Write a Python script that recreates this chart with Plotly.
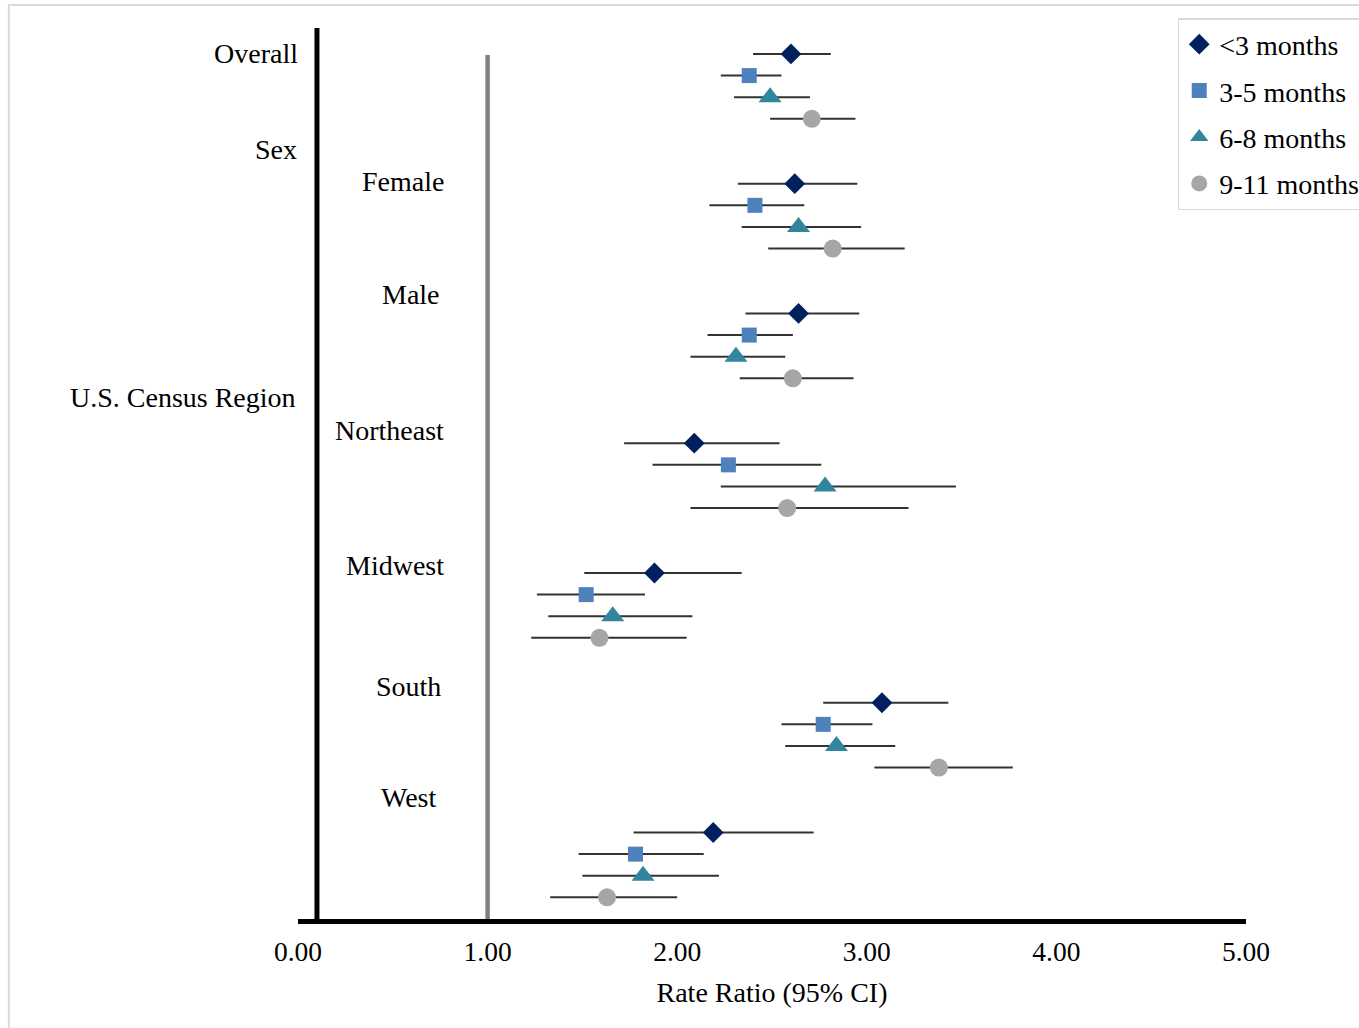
import plotly.graph_objects as go

# Subgroups, top to bottom
groups = ["Overall", "Female", "Male", "Northeast", "Midwest", "South", "West"]
age_groups = ["<3 months", "3-5 months", "6-8 months", "9-11 months"]

# Rate ratio point estimates, one list per age group (same order as groups)
rr_lt3 = [2.60, 2.62, 2.64, 2.09, 1.88, 3.08, 2.19]
rr_3_5 = [2.38, 2.41, 2.38, 2.27, 1.52, 2.77, 1.78]
rr_6_8 = [2.49, 2.64, 2.31, 2.78, 1.66, 2.84, 1.82]
rr_9_11 = [2.71, 2.82, 2.61, 2.58, 1.59, 3.38, 1.63]

# Lower 95% confidence limits
lo_lt3 = [2.40, 2.32, 2.36, 1.72, 1.51, 2.77, 1.77]
lo_3_5 = [2.23, 2.17, 2.16, 1.87, 1.26, 2.55, 1.48]
lo_6_8 = [2.30, 2.34, 2.07, 2.23, 1.32, 2.57, 1.50]
lo_9_11 = [2.49, 2.48, 2.33, 2.07, 1.23, 3.04, 1.33]

# Upper 95% confidence limits
hi_lt3 = [2.81, 2.95, 2.96, 2.54, 2.34, 3.43, 2.72]
hi_3_5 = [2.55, 2.67, 2.61, 2.76, 1.83, 3.03, 2.14]
hi_6_8 = [2.70, 2.97, 2.57, 3.47, 2.08, 3.15, 2.22]
hi_9_11 = [2.94, 3.20, 2.93, 3.22, 2.05, 3.77, 2.00]

x_ticks = [0, 1, 2, 3, 4, 5]

series = [
    (age_groups[0], rr_lt3, lo_lt3, hi_lt3, "diamond", "#002060", 16),
    (age_groups[1], rr_3_5, lo_3_5, hi_3_5, "square", "#4F81BD", 15),
    (age_groups[2], rr_6_8, lo_6_8, hi_6_8, "triangle-up", "#31859C", 20),
    (age_groups[3], rr_9_11, lo_9_11, hi_9_11, "circle", "#A6A6A6", 18),
]

ROWS_PER_GROUP = 6  # four estimates + two blank rows
Y_BOTTOM = ROWS_PER_GROUP * len(groups) - 2
Y_TOP = -1.2
FONT = "Liberation Serif"

fig = go.Figure()
for k, (name, rr, lo, hi, sym, col, size) in enumerate(series):
    ys = [g * ROWS_PER_GROUP + k for g in range(len(groups))]
    fig.add_trace(go.Scatter(
        x=rr, y=ys, mode="markers", name=name, legendgroup=name,
        marker=dict(symbol=sym, color=col, size=size, line=dict(width=0)),
        error_x=dict(type="data", symmetric=False,
                     array=[h - r for h, r in zip(hi, rr)],
                     arrayminus=[r - l for r, l in zip(rr, lo)],
                     color="#333333", thickness=2, width=0),
    ))

# Vertical reference line at a rate ratio of 1 and the category axis line
fig.add_shape(type="line", xref="x", yref="y", x0=1, x1=1, y0=0.05, y1=Y_BOTTOM,
              line=dict(color="#808080", width=4.5), layer="below")
fig.add_shape(type="line", xref="x", yref="y", x0=0.1, x1=0.1, y0=Y_TOP, y1=Y_BOTTOM,
              line=dict(color="black", width=5), layer="below")

# Chart-area border
fig.add_shape(type="rect", xref="paper", yref="paper", x0=-0.305, x1=1.3,
              y0=-0.3, y1=1.0258, line=dict(color="#d9d9d9", width=2),
              fillcolor="rgba(0,0,0,0)")

# Row labels: text, right edge (in axis units), row
row_labels = [
    ("Overall", 0.013, 0.0),
    ("Sex", 0.003, 4.4),
    ("U.S. Census Region", -0.002, 15.9),
    ("Female", 0.778, 5.9),
    ("Male", 0.762, 11.1),
    ("Northeast", 0.778, 17.4),
    ("Midwest", 0.778, 23.65),
    ("South", 0.767, 29.25),
    ("West", 0.746, 34.4),
]
for text, xl, yl in row_labels:
    fig.add_annotation(x=xl / 5, y=yl, xref="paper", yref="y", text=text,
                       showarrow=False, xanchor="right", yanchor="middle",
                       font=dict(family=FONT, size=28, color="black"))

fig.update_layout(
    width=1359, height=1028,
    margin=dict(l=298, r=113, t=28, b=109, autoexpand=False),
    paper_bgcolor="white", plot_bgcolor="white",
    font=dict(family=FONT, size=28, color="black"),
    showlegend=True,
    legend=dict(x=0.928, y=1.0112, xanchor="left", yanchor="top",
                bordercolor="#d9d9d9", borderwidth=1.5, bgcolor="white",
                font=dict(family=FONT, size=28, color="black"),
                tracegroupgap=7, itemsizing="trace"),
    xaxis=dict(range=[0, 5], tickvals=x_ticks,
               ticktext=[f"{v:.2f}" for v in x_ticks],
               tickfont=dict(family=FONT, size=27.5, color="black"),
               showgrid=False, zeroline=False, showline=True,
               linecolor="black", linewidth=5, ticks="",
               ticklabelstandoff=4,
               title=dict(text="Rate Ratio (95% CI)", standoff=18,
                          font=dict(family=FONT, size=28, color="black"))),
    yaxis=dict(range=[Y_BOTTOM, Y_TOP], showgrid=False, zeroline=False,
               showline=False, showticklabels=False, ticks=""),
)

fig.write_html("out.html")
